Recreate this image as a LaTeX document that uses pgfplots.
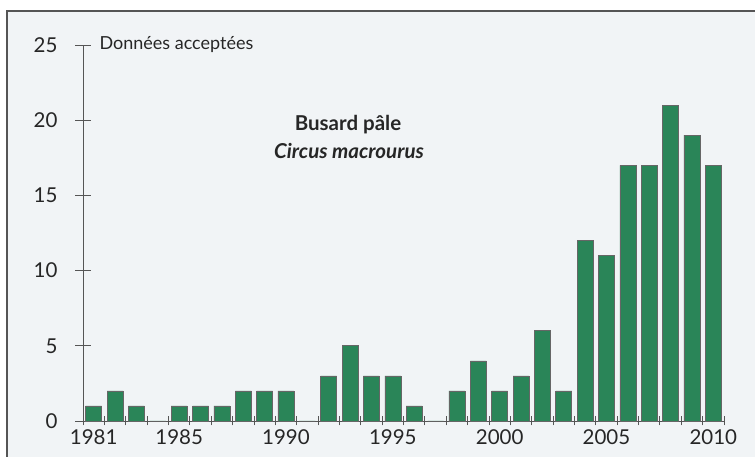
\documentclass[border=0pt]{standalone}
\usepackage{pgfplots}
\pgfplotsset{compat=1.18}
\usepackage{fontspec}
\setmainfont{Lato}
\definecolor{bg}{HTML}{F1F4F6}
\definecolor{bargreen}{HTML}{2A8558}
\definecolor{axgray}{HTML}{555555}
\pgfplotstableread{
year n
1981 1
1982 2
1983 1
1984 0
1985 1
1986 1
1987 1
1988 2
1989 2
1990 2
1991 0
1992 3
1993 5
1994 3
1995 3
1996 1
1997 0
1998 2
1999 4
2000 2
2001 3
2002 6
2003 2
2004 12
2005 11
2006 17
2007 17
2008 21
2009 19
2010 17
}\data
\begin{document}
\begin{tikzpicture}[x=1pt,y=1pt]
\useasboundingbox (0,0) rectangle (755,457);
\fill[bg] (7,0) rectangle (755,446);
\draw[axgray, line width=1.2pt] (7,0) -- (7,446) -- (755,446);
\begin{axis}[
  at={(83pt,36pt)}, anchor=origin,
  scale only axis, width=641pt, height=376pt,
  xmin=1980.5, xmax=2010.5, ymin=0, ymax=25,
  axis x line*=bottom, axis y line*=left,
  axis line style={axgray, line width=0.8pt, -},
  xtick={1981,1985,1990,1995,2000,2005,2010},
  minor xtick={1980.5,1981.5,...,2010.5},
  major x tick style={draw=none},
  minor x tick style={axgray, line width=0.8pt},
  minor tick length=9pt,
  ytick={0,5,10,15,20,25},
  y tick style={axgray, line width=0.8pt},
  major tick length=16pt,
  tick align=center,
  xticklabel style={font=\fontsize{20.5}{24}\selectfont, yshift=3pt, text=black!85},
  yticklabel style={font=\fontsize{20.5}{24}\selectfont, xshift=-14pt, text=black!85},
  /pgf/number format/assume math mode=true,
  x tick label style={/pgf/number format/1000 sep=},
  clip=false,
]
\addplot[ybar, bar width=16pt, fill=bargreen, draw=gray!80!black, line width=0.6pt] table[x=year,y=n] {\data};
\end{axis}
\node[anchor=west, font=\fontsize{18}{21}\selectfont, text=black!85] at (96,412) {Données acceptées};
\node[font=\bfseries\fontsize{20.5}{24}\selectfont, text=black!85] at (348,332) {Busard pâle};
\node[font=\bfseries\itshape\fontsize{20.5}{24}\selectfont, text=black!85] at (349,306) {Circus macrourus};
\end{tikzpicture}
\end{document}
